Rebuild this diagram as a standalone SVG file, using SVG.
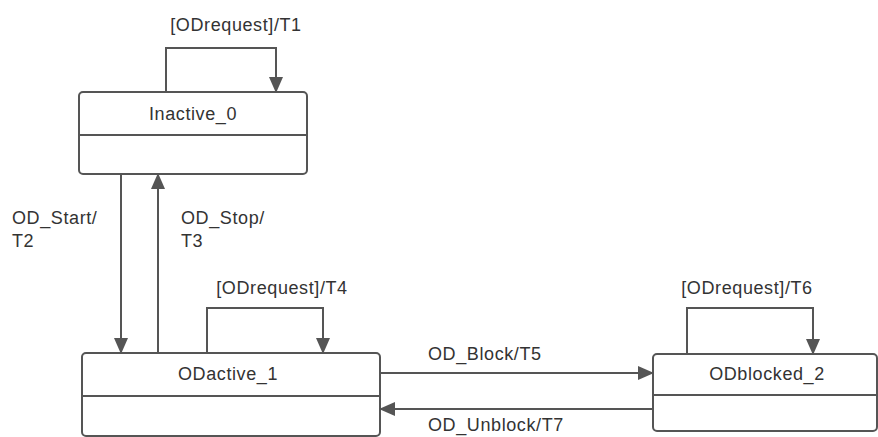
<svg xmlns="http://www.w3.org/2000/svg" width="878" height="437" viewBox="0 0 878 437">
<defs>
<marker id="ah" viewBox="0 0 16 14" refX="15" refY="7" markerWidth="16" markerHeight="14" markerUnits="userSpaceOnUse" orient="auto">
<path d="M0,0 L16,7 L0,14 Z" fill="#555"/>
</marker>
<style>
.box{fill:#fff;stroke:#555;stroke-width:2}
.div{stroke:#555;stroke-width:2}
.c{fill:none;stroke:#555;stroke-width:2;marker-end:url(#ah)}
text{font-family:"Liberation Sans",Arial,sans-serif;font-size:18px;fill:#333;letter-spacing:0.6px}
.m{text-anchor:middle}
</style>
</defs>
<rect width="878" height="437" fill="#fff"/>
<g id="Inactive_0">
<rect class="box" x="79" y="92" width="228" height="82" rx="4"/>
<line class="div" x1="79" y1="135" x2="307" y2="135"/>
<text class="m" x="193" y="120">Inactive_0</text>
</g>
<g id="ODactive_1">
<rect class="box" x="82" y="353" width="298" height="83" rx="4"/>
<line class="div" x1="82" y1="396" x2="380" y2="396"/>
<text class="m" x="228" y="380">ODactive_1</text>
</g>
<g id="ODblocked_2">
<rect class="box" x="653" y="354" width="224" height="77" rx="4"/>
<line class="div" x1="653" y1="395" x2="877" y2="395"/>
<text class="m" x="767" y="380">ODblocked_2</text>
</g>
<g id="connectors">
<path class="c" d="M166,92 V48 H276 V92"/>
<path class="c" d="M121,174 V353"/>
<path class="c" d="M158,353 V174"/>
<path class="c" d="M207,353 V308 H323 V353"/>
<path class="c" d="M687,354 V308 H813 V354"/>
<path class="c" d="M380,373 H653"/>
<path class="c" d="M653,409 H380"/>
</g>
<g id="labels">
<text class="m" x="236" y="31">[ODrequest]/T1</text>
<text x="12" y="224">OD_Start/</text>
<text x="12" y="247">T2</text>
<text x="181" y="224">OD_Stop/</text>
<text x="181" y="247">T3</text>
<text class="m" x="282" y="294">[ODrequest]/T4</text>
<text class="m" x="747" y="294">[ODrequest]/T6</text>
<text x="428" y="360">OD_Block/T5</text>
<text x="428" y="431">OD_Unblock/T7</text>
</g>
</svg>
